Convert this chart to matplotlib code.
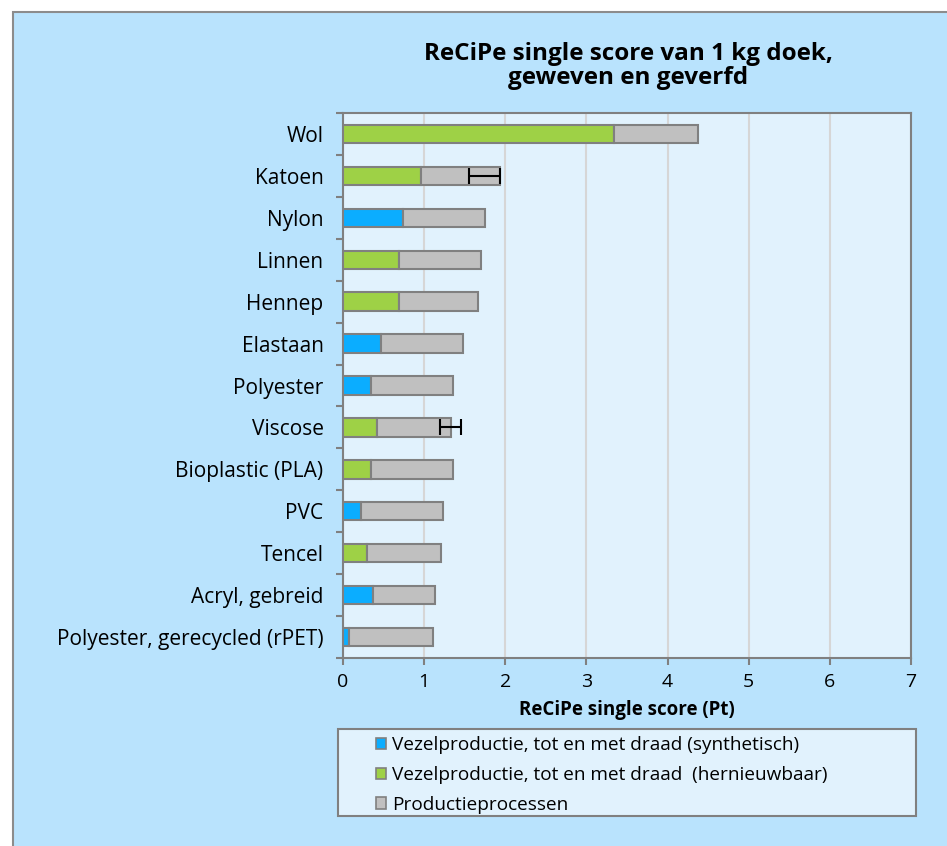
import matplotlib.pyplot as plt
import matplotlib.patches as mpatches
import numpy as np

plt.rcParams['font.family'] = ['Open Sans', 'DejaVu Sans']

categories = ["Wol", "Katoen", "Nylon", "Linnen", "Hennep", "Elastaan", "Polyester",
              "Viscose", "Bioplastic (PLA)", "PVC", "Tencel", "Acryl, gebreid",
              "Polyester, gerecycled (rPET)"]
fiber_type = ["hernieuwbaar", "hernieuwbaar", "synthetisch", "hernieuwbaar", "hernieuwbaar",
              "synthetisch", "synthetisch", "hernieuwbaar", "hernieuwbaar", "synthetisch",
              "hernieuwbaar", "synthetisch", "synthetisch"]
fiber = [3.34, 0.96, 0.74, 0.69, 0.69, 0.47, 0.35, 0.42, 0.35, 0.22, 0.30, 0.37, 0.07]
totals = [4.37, 1.94, 1.75, 1.70, 1.66, 1.48, 1.36, 1.33, 1.36, 1.23, 1.21, 1.13, 1.11]
process = [t - f for t, f in zip(totals, fiber)]
err_minus = [0, 0.39, 0, 0, 0, 0, 0, 0.13, 0, 0, 0, 0, 0]
err_plus = [0, 0.0, 0, 0, 0, 0, 0, 0.13, 0, 0, 0, 0, 0]

legend_labels = ["Vezelproductie, tot en met draad (synthetisch)",
                 "Vezelproductie, tot en met draad  (hernieuwbaar)",
                 "Productieprocessen"]

c_blue = "#0BADFF"
c_green = "#9ED146"
c_gray = "#C0C0C0"
edge = "#808080"

fig = plt.figure(figsize=(9.47, 8.46), dpi=100)
fig.patch.set_facecolor("white")
W, H = 947, 846
frame = mpatches.Rectangle((13 / W, -0.01), 1.0, 1 - 12 / H + 0.01, transform=fig.transFigure,
                           facecolor="#B9E3FD", edgecolor="#8C8C8C", linewidth=1.5, zorder=-10)
fig.patches.append(frame)
legbox = mpatches.Rectangle((338 / W, 1 - 816 / H), (916 - 338) / W, (816 - 729) / H,
                            transform=fig.transFigure, facecolor="#E1F2FD",
                            edgecolor=edge, linewidth=1.5, zorder=-5)
fig.patches.append(legbox)

ax = fig.add_axes([343 / W, 1 - 658 / H, (911 - 343) / W, (658 - 113) / H])
ax.set_facecolor("#E1F2FD")

y = np.arange(len(categories))
colors = [c_blue if t == "synthetisch" else c_green for t in fiber_type]
h = 0.44
ax.barh(y, fiber, height=h, color=colors, edgecolor=edge, linewidth=1.5, zorder=3)
ax.barh(y, process, left=fiber, height=h, color=c_gray, edgecolor=edge, linewidth=1.5, zorder=3)

for i in range(len(categories)):
    if err_minus[i] > 0 or err_plus[i] > 0:
        ax.errorbar(totals[i], y[i], xerr=[[err_minus[i]], [err_plus[i]]], fmt="none",
                    ecolor="black", elinewidth=1.5, capsize=6, capthick=1.5, zorder=4)

ax.set_xlim(0, 7)
ax.set_ylim(len(categories) - 0.5, -0.5)
ax.set_xticks(range(0, 8))
ax.set_yticks(y)
ax.set_yticklabels(categories)
ax.set_yticks(np.arange(-0.5, len(categories), 1), minor=True)
ax.tick_params(axis="y", which="major", length=0, pad=14, labelsize=15)
ax.tick_params(axis="y", which="minor", length=5, color=edge, width=1.5)
ax.tick_params(axis="x", length=5, color=edge, width=1.5, labelsize=14, pad=6)
ax.grid(axis="x", color="#D6D6D6", linewidth=1.5, zorder=0)
ax.set_axisbelow(True)
for s in ["top", "right", "bottom", "left"]:
    ax.spines[s].set_color(edge)
    ax.spines[s].set_linewidth(1.5)

ax.set_xlabel("ReCiPe single score (Pt)", fontsize=13.5, fontweight="bold", labelpad=6)
fig.text(628 / W, 1 - 66 / H, "ReCiPe single score van 1 kg doek,\ngeweven en geverfd",
         ha="center", va="center", fontsize=17.5, fontweight="bold", linespacing=1.0)

handles = [mpatches.Patch(facecolor=c, edgecolor=edge, linewidth=1.2) for c in (c_blue, c_green, c_gray)]
leg = fig.legend(handles, legend_labels, loc="center left",
                 bbox_to_anchor=(376 / W, 1 - 775 / H),
                 fontsize=13.7, frameon=False,
                 handlelength=0.55, handleheight=0.55, handletextpad=0.3,
                 borderaxespad=0, borderpad=0, labelspacing=0.62)

fig.savefig("out.png", dpi=100)
